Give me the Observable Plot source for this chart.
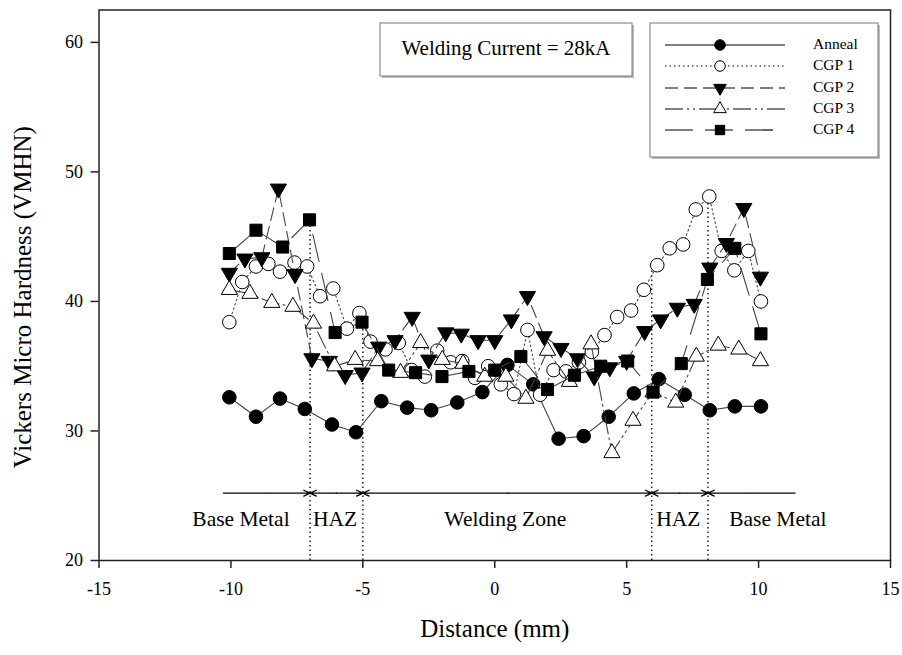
<!DOCTYPE html>
<html><head><meta charset="utf-8">
<script src="https://cdn.jsdelivr.net/npm/d3@7"></script>
<script src="https://cdn.jsdelivr.net/npm/@observablehq/plot@0.6"></script>
<style>
html,body{margin:0;padding:0;background:#fff;}
#chart svg{display:block;}
</style></head><body><div id="chart"></div>
<script>
// ---- data ----
const seriesNames = ["Anneal", "CGP 1", "CGP 2", "CGP 3", "CGP 4"];

const annealX = [-10.06,-9.05,-8.14,-7.2,-6.17,-5.26,-4.3,-3.32,-2.41,-1.42,-0.47,0.48,1.46,2.42,3.37,4.32,5.27,6.22,7.2,8.15,9.1,10.09];
const annealY = [32.6,31.1,32.5,31.7,30.5,29.9,32.3,31.8,31.6,32.2,33.0,35.1,33.6,29.4,29.6,31.1,32.9,34.0,32.8,31.6,31.9,31.9];

const cgp1X = [-10.06,-9.57,-9.05,-8.58,-8.14,-7.59,-7.11,-6.62,-6.12,-5.6,-5.13,-4.71,-4.14,-3.64,-3.15,-2.65,-2.18,-1.67,-1.23,-0.75,-0.25,0.23,0.73,1.24,1.72,2.23,2.7,3.19,3.68,4.16,4.64,5.17,5.65,6.16,6.63,7.14,7.62,8.13,8.6,9.08,9.61,10.09];
const cgp1Y = [38.4,41.5,42.7,42.9,42.3,43.0,42.7,40.4,41.0,37.9,39.1,36.9,36.3,36.8,34.7,34.2,36.2,35.3,35.4,34.1,35.0,33.6,32.85,37.8,32.8,34.7,34.6,35.3,36.1,37.4,38.8,39.3,40.9,42.8,44.1,44.4,47.1,48.1,43.9,42.4,43.9,40.0];

const cgp2X = [-10.06,-9.47,-8.83,-8.2,-7.57,-6.93,-6.27,-5.67,-5.03,-4.4,-3.78,-3.13,-2.5,-1.86,-1.27,-0.63,0,0.63,1.24,1.87,2.51,3.14,3.77,4.36,5.0,5.68,6.29,6.92,7.56,8.15,8.78,9.44,10.07];
const cgp2Y = [42.2,43.3,43.4,48.7,42.1,35.6,35.4,34.3,34.5,36.5,37.0,38.8,35.5,37.6,37.5,37.0,37.0,38.6,40.4,37.3,36.4,35.6,34.2,34.9,35.4,37.7,38.6,39.5,39.8,42.6,44.5,47.2,41.9];

const cgp3X = [-10.06,-9.28,-8.45,-7.65,-6.87,-6.07,-5.29,-4.44,-3.57,-2.81,-1.99,-1.2,-0.38,0.42,1.18,2.0,2.83,3.65,4.44,5.24,6.0,6.86,7.64,8.47,9.25,10.07];
const cgp3Y = [40.9,40.6,39.9,39.6,38.3,35.0,35.5,35.4,34.5,36.8,35.5,35.2,34.2,34.2,32.5,36.2,33.8,36.7,28.3,30.8,33.0,32.2,35.75,36.6,36.3,35.4];

const cgp4X = [-10.06,-9.05,-8.04,-7.02,-6.05,-5.03,-4.02,-3.0,-2.0,-0.98,0.0,0.99,2.0,3.02,4.02,5.04,6.0,7.07,8.06,9.1,10.09];
const cgp4Y = [43.7,45.5,44.2,46.3,37.6,38.4,34.7,34.5,34.2,34.6,34.7,35.75,33.2,34.3,35.0,35.4,33.0,35.2,41.7,44.1,37.5];

const xTicks = [-15,-10,-5,0,5,10,15];
const yTicks = [20,30,40,50,60];

// zone annotations
const boundaryX = [-7, -5, 5.95, 8.08];
const boundaryTop = [46.3, 38.4, 42.8, 48.1];
const zoneEdges = [-10.3, -7, -5, 5.95, 8.08, 11.4];
const arrowY = 25.2;
const zoneLabels = ["Base Metal", "HAZ", "Welding Zone", "HAZ", "Base Metal"];
const zoneLabelX = [-9.62, -6.05, 0.4, 6.96, 10.73];
const zoneLabelY = 23.2;

const titleText = "Welding Current = 28kA";
const xLabel = "Distance (mm)";
const yLabel = "Vickers Micro Hardness (VMHN)";

// ---- build ----
const FONT = '"Liberation Serif","Times New Roman",serif';
const invTriangle = {
  draw(context, size) {
    const y = -Math.sqrt(size / (Math.sqrt(3) * 3));
    context.moveTo(0, -y * 2);
    context.lineTo(-Math.sqrt(3) * y, y);
    context.lineTo(Math.sqrt(3) * y, y);
    context.closePath();
  }
};
const styles = [
  {dash: null, symbol: "circle", fill: "black", r: 6.8},
  {dash: "1.5,3", symbol: "circle", fill: "white", r: 6.8},
  {dash: "13,6", symbol: invTriangle, fill: "black", r: 6},
  {dash: "18,4,2,4,2,4", symbol: "triangle", fill: "white", r: 6},
  {dash: "28,12", symbol: "square", fill: "black", r: 6.8}
];
const xsAll = [annealX, cgp1X, cgp2X, cgp3X, cgp4X];
const ysAll = [annealY, cgp1Y, cgp2Y, cgp3Y, cgp4Y];
const series = seriesNames.map((name, k) => ({
  name, ...styles[k],
  rows: xsAll[k].map((x, i) => ({x, y: ysAll[k][i], series: name}))
}));

const boundaries = boundaryX.map((x, i) => ({x, top: boundaryTop[i]}));
const arrows = [];
const plainSegs = [];
for (let i = 0; i < zoneEdges.length - 1; i++) {
  const a = zoneEdges[i], b = zoneEdges[i + 1], m = (a + b) / 2;
  if (i === 0) plainSegs.push({x1: a, x2: m}); else arrows.push({x1: m, x2: a});
  if (i === zoneEdges.length - 2) plainSegs.push({x1: m, x2: b}); else arrows.push({x1: m, x2: b});
}
const labels = zoneLabels.map((label, i) => ({label, x: zoneLabelX[i]}));

const marks = [
  Plot.ruleX(boundaries, {x: "x", y1: 20, y2: "top", stroke: "#222", strokeWidth: 1.5, strokeDasharray: "1.5,3"}),
  Plot.link(plainSegs, {x1: "x1", x2: "x2", y1: arrowY, y2: arrowY, stroke: "black", strokeWidth: 1.3}),
  Plot.arrow(arrows, {x1: "x1", x2: "x2", y1: arrowY, y2: arrowY, stroke: "black", strokeWidth: 1.3, headLength: 8, headAngle: 50}),
  Plot.text(labels, {x: "x", y: zoneLabelY, text: "label", fontSize: 21.5, fill: "black"})
];
series.forEach(s => {
  marks.push(Plot.line(s.rows, {x: "x", y: "y", stroke: "#444", strokeWidth: 1.1, strokeDasharray: s.dash}));
  marks.push(Plot.dot(s.rows, {x: "x", y: "y", symbol: s.symbol, r: s.r, fill: s.fill, stroke: "black", strokeWidth: 1}));
});
marks.push(
  Plot.frame({stroke: "#222", strokeWidth: 1.5}),
  Plot.axisX({ticks: xTicks, tickSize: 8, tickPadding: 14, fontSize: 18, tickFormat: d => String(d), label: null, stroke: "#222", strokeWidth: 1.5}),
  Plot.axisY({ticks: yTicks, tickSize: 8, tickPadding: 8, fontSize: 18, tickFormat: d => String(d), label: null, stroke: "#222", strokeWidth: 1.5}),
  Plot.text([xLabel], {frameAnchor: "bottom", dy: 76, text: d => d, fontSize: 25, fill: "black", textAnchor: "middle"}),
  Plot.text([yLabel], {frameAnchor: "left", dx: -76, dy: 12, rotate: -90, text: d => d, fontSize: 25, fill: "black", textAnchor: "middle"})
);

const chart = Plot.plot({
  width: 902, height: 655,
  marginLeft: 98.5, marginRight: 12, marginTop: 9.5, marginBottom: 95,
  x: {domain: [-15, 15]},
  y: {domain: [20, 62.5]},
  style: {fontFamily: FONT, fontSize: "18px", color: "black", background: "white", overflow: "visible"},
  marks
});
document.getElementById("chart").appendChild(chart);

// ---- title box & legend (overlay in the same svg) ----
const svg = d3.select(chart);
const tb = svg.append("g");
tb.append("rect").attr("x", 382).attr("y", 25).attr("width", 252).attr("height", 53).attr("fill", "#bbb");
tb.append("rect").attr("x", 380).attr("y", 23).attr("width", 252).attr("height", 53).attr("fill", "white").attr("stroke", "#777").attr("stroke-width", 1);
tb.append("text").attr("x", 506).attr("y", 50).attr("text-anchor", "middle").attr("dominant-baseline", "middle")
  .attr("font-family", FONT).attr("font-size", 21).attr("fill", "black").text(titleText);

const lg = svg.append("g");
lg.append("rect").attr("x", 652).attr("y", 25).attr("width", 228).attr("height", 134).attr("fill", "#bbb");
lg.append("rect").attr("x", 650).attr("y", 23).attr("width", 228).attr("height", 134).attr("fill", "white").attr("stroke", "#777").attr("stroke-width", 1);
const rowY = [45, 66, 88, 109, 130];
series.forEach((s, i) => {
  const y = rowY[i];
  lg.append("line").attr("x1", 665).attr("x2", 785).attr("y1", y).attr("y2", y)
    .attr("stroke", "black").attr("stroke-width", 1.2).attr("stroke-dasharray", s.dash);
  const sym = typeof s.symbol === "string" ? ({circle: d3.symbolCircle, triangle: d3.symbolTriangle, square: d3.symbolSquare})[s.symbol] : s.symbol;
  lg.append("path").attr("d", d3.symbol(sym, Math.PI * (s.r * 0.78) ** 2)())
    .attr("transform", `translate(720,${y})`).attr("fill", s.fill).attr("stroke", "black").attr("stroke-width", 1);
  lg.append("text").attr("x", 813).attr("y", y).attr("text-anchor", "start").attr("dominant-baseline", "middle")
    .attr("font-family", FONT).attr("font-size", 15.5).attr("fill", "black").text(s.name);
});
</script></body></html>
